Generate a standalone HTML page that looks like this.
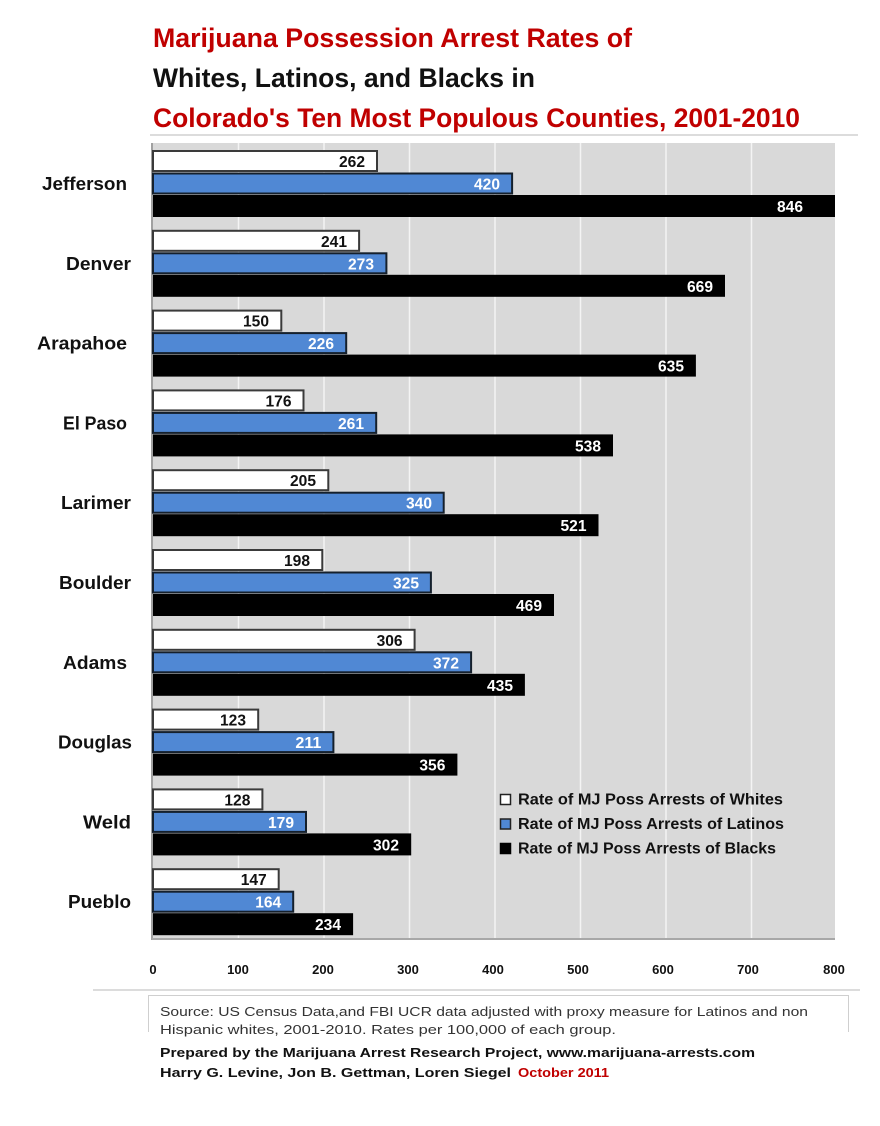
<!DOCTYPE html>
<html>
<head>
<meta charset="utf-8">
<style>
html,body{margin:0;padding:0;background:#fff;}
svg{display:block;}
text{font-family:"Liberation Sans",Arial,sans-serif;}
.t{font-size:27px;font-weight:bold;}
.c{font-size:18px;font-weight:bold;fill:#111;}
.v{font-size:16px;font-weight:bold;}
.vb{fill:#111;}
.vw{fill:#fff;}
.tk{font-size:13px;font-weight:bold;fill:#111;text-anchor:middle;}
.lg{font-size:16px;font-weight:bold;fill:#111;}
.src{font-size:13px;fill:#333;}
.pr{font-size:13px;font-weight:bold;fill:#111;}
</style>
</head>
<body>
<svg width="880" height="1126" viewBox="0 0 880 1126" xmlns="http://www.w3.org/2000/svg">
<!-- Title -->
<text class="t" x="153" y="47" fill="#c00000" textLength="479" lengthAdjust="spacingAndGlyphs">Marijuana Possession Arrest Rates of</text>
<text class="t" x="153" y="87" fill="#111" textLength="382" lengthAdjust="spacingAndGlyphs">Whites, Latinos, and Blacks in</text>
<text class="t" x="153" y="127" fill="#c00000" textLength="647" lengthAdjust="spacingAndGlyphs">Colorado's Ten Most Populous Counties, 2001-2010</text>
<line x1="150" y1="135" x2="858" y2="135" stroke="#dcdcdc" stroke-width="2"/>

<!-- Plot area -->
<rect x="152" y="143" width="683" height="797" fill="#d9d9d9"/>
<g stroke="#f4f4f4" stroke-width="1.5">
<line x1="238.5" y1="143" x2="238.5" y2="938"/>
<line x1="324" y1="143" x2="324" y2="938"/>
<line x1="409.5" y1="143" x2="409.5" y2="938"/>
<line x1="495" y1="143" x2="495" y2="938"/>
<line x1="580.5" y1="143" x2="580.5" y2="938"/>
<line x1="666" y1="143" x2="666" y2="938"/>
<line x1="751.5" y1="143" x2="751.5" y2="938"/>
</g>
<line x1="152" y1="143" x2="152" y2="940" stroke="#a0a0a0" stroke-width="2"/>
<line x1="152" y1="939" x2="835" y2="939" stroke="#a8a8a8" stroke-width="2"/>

<!-- Jefferson -->
<g transform="translate(0,150)">
<rect x="153" y="1" width="224" height="20" fill="#fff" stroke="#3a3a3a" stroke-width="2"/>
<rect x="153" y="23.5" width="359.1" height="20" fill="#5088d4" stroke="#15202c" stroke-width="2"/>
<rect x="153" y="45" width="682" height="22" fill="#000"/>
<text class="v vb" x="365" y="17" text-anchor="end" textLength="26" lengthAdjust="spacingAndGlyphs">262</text>
<text class="v vw" x="500" y="39.5" text-anchor="end" textLength="26" lengthAdjust="spacingAndGlyphs">420</text>
<text class="v vw" x="803" y="62" text-anchor="end" textLength="26" lengthAdjust="spacingAndGlyphs">846</text>
<text class="c" x="42" y="40" textLength="85" lengthAdjust="spacingAndGlyphs">Jefferson</text>
</g>
<!-- Denver -->
<g transform="translate(0,229.8)">
<rect x="153" y="1" width="206.1" height="20" fill="#fff" stroke="#3a3a3a" stroke-width="2"/>
<rect x="153" y="23.5" width="233.4" height="20" fill="#5088d4" stroke="#15202c" stroke-width="2"/>
<rect x="153" y="45" width="572" height="22" fill="#000"/>
<text class="v vb" x="347" y="17" text-anchor="end" textLength="26" lengthAdjust="spacingAndGlyphs">241</text>
<text class="v vw" x="374" y="39.5" text-anchor="end" textLength="26" lengthAdjust="spacingAndGlyphs">273</text>
<text class="v vw" x="713" y="62" text-anchor="end" textLength="26" lengthAdjust="spacingAndGlyphs">669</text>
<text class="c" x="66" y="40" textLength="65" lengthAdjust="spacingAndGlyphs">Denver</text>
</g>
<!-- Arapahoe -->
<g transform="translate(0,309.6)">
<rect x="153" y="1" width="128.3" height="20" fill="#fff" stroke="#3a3a3a" stroke-width="2"/>
<rect x="153" y="23.5" width="193.2" height="20" fill="#5088d4" stroke="#15202c" stroke-width="2"/>
<rect x="153" y="45" width="542.9" height="22" fill="#000"/>
<text class="v vb" x="269" y="17" text-anchor="end" textLength="26" lengthAdjust="spacingAndGlyphs">150</text>
<text class="v vw" x="334" y="39.5" text-anchor="end" textLength="26" lengthAdjust="spacingAndGlyphs">226</text>
<text class="v vw" x="684" y="62" text-anchor="end" textLength="26" lengthAdjust="spacingAndGlyphs">635</text>
<text class="c" x="37" y="40" textLength="90" lengthAdjust="spacingAndGlyphs">Arapahoe</text>
</g>
<!-- El Paso -->
<g transform="translate(0,389.4)">
<rect x="153" y="1" width="150.5" height="20" fill="#fff" stroke="#3a3a3a" stroke-width="2"/>
<rect x="153" y="23.5" width="223.2" height="20" fill="#5088d4" stroke="#15202c" stroke-width="2"/>
<rect x="153" y="45" width="460" height="22" fill="#000"/>
<text class="v vb" x="291.5" y="17" text-anchor="end" textLength="26" lengthAdjust="spacingAndGlyphs">176</text>
<text class="v vw" x="364" y="39.5" text-anchor="end" textLength="26" lengthAdjust="spacingAndGlyphs">261</text>
<text class="v vw" x="601" y="62" text-anchor="end" textLength="26" lengthAdjust="spacingAndGlyphs">538</text>
<text class="c" x="63" y="40" textLength="64" lengthAdjust="spacingAndGlyphs">El Paso</text>
</g>
<!-- Larimer -->
<g transform="translate(0,469.2)">
<rect x="153" y="1" width="175.3" height="20" fill="#fff" stroke="#3a3a3a" stroke-width="2"/>
<rect x="153" y="23.5" width="290.7" height="20" fill="#5088d4" stroke="#15202c" stroke-width="2"/>
<rect x="153" y="45" width="445.5" height="22" fill="#000"/>
<text class="v vb" x="316" y="17" text-anchor="end" textLength="26" lengthAdjust="spacingAndGlyphs">205</text>
<text class="v vw" x="432" y="39.5" text-anchor="end" textLength="26" lengthAdjust="spacingAndGlyphs">340</text>
<text class="v vw" x="586.5" y="62" text-anchor="end" textLength="26" lengthAdjust="spacingAndGlyphs">521</text>
<text class="c" x="61" y="40" textLength="70" lengthAdjust="spacingAndGlyphs">Larimer</text>
</g>
<!-- Boulder -->
<g transform="translate(0,549)">
<rect x="153" y="1" width="169.3" height="20" fill="#fff" stroke="#3a3a3a" stroke-width="2"/>
<rect x="153" y="23.5" width="277.9" height="20" fill="#5088d4" stroke="#15202c" stroke-width="2"/>
<rect x="153" y="45" width="401" height="22" fill="#000"/>
<text class="v vb" x="310" y="17" text-anchor="end" textLength="26" lengthAdjust="spacingAndGlyphs">198</text>
<text class="v vw" x="419" y="39.5" text-anchor="end" textLength="26" lengthAdjust="spacingAndGlyphs">325</text>
<text class="v vw" x="542" y="62" text-anchor="end" textLength="26" lengthAdjust="spacingAndGlyphs">469</text>
<text class="c" x="59" y="40" textLength="72" lengthAdjust="spacingAndGlyphs">Boulder</text>
</g>
<!-- Adams -->
<g transform="translate(0,628.8)">
<rect x="153" y="1" width="261.6" height="20" fill="#fff" stroke="#3a3a3a" stroke-width="2"/>
<rect x="153" y="23.5" width="318.1" height="20" fill="#5088d4" stroke="#15202c" stroke-width="2"/>
<rect x="153" y="45" width="371.9" height="22" fill="#000"/>
<text class="v vb" x="402.6" y="17" text-anchor="end" textLength="26" lengthAdjust="spacingAndGlyphs">306</text>
<text class="v vw" x="459" y="39.5" text-anchor="end" textLength="26" lengthAdjust="spacingAndGlyphs">372</text>
<text class="v vw" x="513" y="62" text-anchor="end" textLength="26" lengthAdjust="spacingAndGlyphs">435</text>
<text class="c" x="63" y="40" textLength="64" lengthAdjust="spacingAndGlyphs">Adams</text>
</g>
<!-- Douglas -->
<g transform="translate(0,708.6)">
<rect x="153" y="1" width="105.2" height="20" fill="#fff" stroke="#3a3a3a" stroke-width="2"/>
<rect x="153" y="23.5" width="180.4" height="20" fill="#5088d4" stroke="#15202c" stroke-width="2"/>
<rect x="153" y="45" width="304.4" height="22" fill="#000"/>
<text class="v vb" x="246" y="17" text-anchor="end" textLength="26" lengthAdjust="spacingAndGlyphs">123</text>
<text class="v vw" x="321.4" y="39.5" text-anchor="end" textLength="26" lengthAdjust="spacingAndGlyphs">211</text>
<text class="v vw" x="445.4" y="62" text-anchor="end" textLength="26" lengthAdjust="spacingAndGlyphs">356</text>
<text class="c" x="58" y="40" textLength="74" lengthAdjust="spacingAndGlyphs">Douglas</text>
</g>
<!-- Weld -->
<g transform="translate(0,788.4)">
<rect x="153" y="1" width="109.4" height="20" fill="#fff" stroke="#3a3a3a" stroke-width="2"/>
<rect x="153" y="23.5" width="153" height="20" fill="#5088d4" stroke="#15202c" stroke-width="2"/>
<rect x="153" y="45" width="258.2" height="22" fill="#000"/>
<text class="v vb" x="250.4" y="17" text-anchor="end" textLength="26" lengthAdjust="spacingAndGlyphs">128</text>
<text class="v vw" x="294" y="39.5" text-anchor="end" textLength="26" lengthAdjust="spacingAndGlyphs">179</text>
<text class="v vw" x="399" y="62" text-anchor="end" textLength="26" lengthAdjust="spacingAndGlyphs">302</text>
<text class="c" x="83" y="40" textLength="48" lengthAdjust="spacingAndGlyphs">Weld</text>
</g>
<!-- Pueblo -->
<g transform="translate(0,868.2)">
<rect x="153" y="1" width="125.7" height="20" fill="#fff" stroke="#3a3a3a" stroke-width="2"/>
<rect x="153" y="23.5" width="140.2" height="20" fill="#5088d4" stroke="#15202c" stroke-width="2"/>
<rect x="153" y="45" width="200.1" height="22" fill="#000"/>
<text class="v vb" x="266.7" y="17" text-anchor="end" textLength="26" lengthAdjust="spacingAndGlyphs">147</text>
<text class="v vw" x="281.2" y="39.5" text-anchor="end" textLength="26" lengthAdjust="spacingAndGlyphs">164</text>
<text class="v vw" x="341" y="62" text-anchor="end" textLength="26" lengthAdjust="spacingAndGlyphs">234</text>
<text class="c" x="68" y="40" textLength="63" lengthAdjust="spacingAndGlyphs">Pueblo</text>
</g>

<!-- Legend -->
<rect x="500.5" y="794.5" width="10" height="10" fill="#fff" stroke="#222" stroke-width="1.5"/>
<text class="lg" x="518" y="804.5" textLength="265" lengthAdjust="spacingAndGlyphs">Rate of MJ Poss Arrests of Whites</text>
<rect x="500.5" y="819" width="10" height="10" fill="#5088d4" stroke="#222" stroke-width="1.5"/>
<text class="lg" x="518" y="829" textLength="266" lengthAdjust="spacingAndGlyphs">Rate of MJ Poss Arrests of Latinos</text>
<rect x="500.5" y="843.5" width="10" height="10" fill="#000" stroke="#000" stroke-width="1.5"/>
<text class="lg" x="518" y="853.5" textLength="258" lengthAdjust="spacingAndGlyphs">Rate of MJ Poss Arrests of Blacks</text>

<!-- X ticks -->
<text class="tk" x="153" y="974">0</text>
<text class="tk" x="238" y="974">100</text>
<text class="tk" x="323" y="974">200</text>
<text class="tk" x="408" y="974">300</text>
<text class="tk" x="493" y="974">400</text>
<text class="tk" x="578" y="974">500</text>
<text class="tk" x="663" y="974">600</text>
<text class="tk" x="748" y="974">700</text>
<text class="tk" x="834" y="974">800</text>

<!-- Separator -->
<line x1="93" y1="990" x2="860" y2="990" stroke="#dcdcdc" stroke-width="2"/>

<!-- Source box -->
<path d="M148.5 1032 V995.5 H848.5 V1032" fill="none" stroke="#cfcfcf" stroke-width="1"/>
<text class="src" x="160" y="1016" textLength="648" lengthAdjust="spacingAndGlyphs">Source:  US Census Data,and FBI UCR data adjusted with proxy measure for Latinos and non</text>
<text class="src" x="160" y="1034" textLength="456" lengthAdjust="spacingAndGlyphs">Hispanic whites, 2001-2010. Rates per 100,000 of each group.</text>
<text class="pr" x="160" y="1057" textLength="595" lengthAdjust="spacingAndGlyphs">Prepared by the Marijuana Arrest Research Project,  www.marijuana-arrests.com</text>
<text class="pr" x="160" y="1077" textLength="351" lengthAdjust="spacingAndGlyphs">Harry G. Levine, Jon B. Gettman, Loren Siegel</text>
<text class="pr" x="518" y="1077" style="fill:#c00000" textLength="91" lengthAdjust="spacingAndGlyphs">October 2011</text>
</svg>
</body>
</html>
